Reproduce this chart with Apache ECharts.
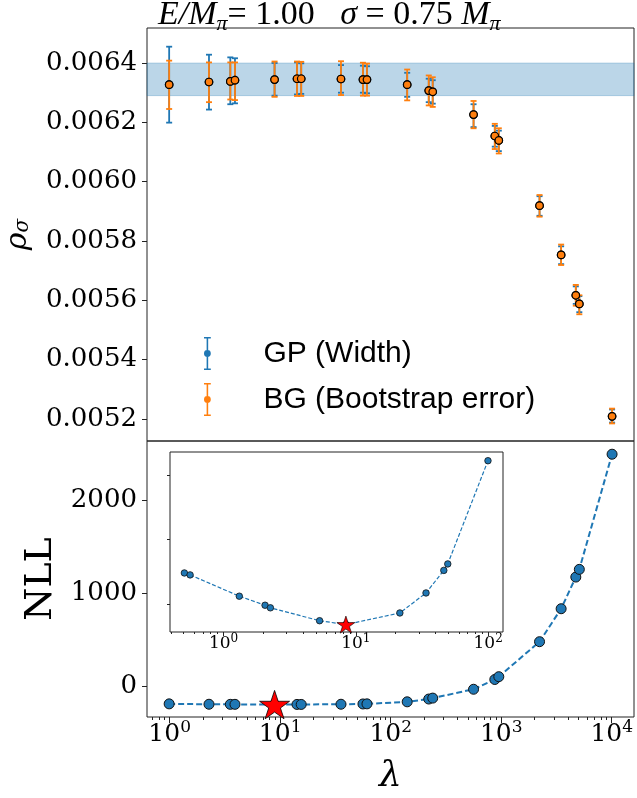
<!DOCTYPE html>
<html><head><meta charset="utf-8">
<script src="https://cdn.jsdelivr.net/npm/echarts@6/dist/echarts.min.js"></script>
<style>html,body{margin:0;padding:0;background:#fff}#c{width:637px;height:798px}</style>
</head><body><div id="c"></div>
<script>
// ---- data ----
const lambdas = [0.99, 2.27, 3.54, 3.90, 8.9, 14.2, 15.5, 35.5, 56.1, 61.0, 141, 221, 240, 562, 875, 951, 2222, 3484, 4730, 5090, 10070];
const rhoGP  = [0.006327, 0.006336, 0.006338, 0.006342, 0.006344, 0.006347, 0.006347, 0.006346, 0.006344, 0.006344, 0.006327, 0.006307, 0.006303, 0.006226, 0.006154, 0.006139, 0.005919, 0.005753, 0.005617, 0.005588, 0.005209];
const rhoBG  = [0.006327, 0.006336, 0.006338, 0.006342, 0.006344, 0.006347, 0.006347, 0.006346, 0.006344, 0.006344, 0.006327, 0.006307, 0.006303, 0.006226, 0.006154, 0.006139, 0.005919, 0.005753, 0.005617, 0.005588, 0.005209];
const gpLow  = [0.006199, 0.006243, 0.006261, 0.006264, 0.006290, 0.006294, 0.006296, 0.006300, 0.006300, 0.006298, 0.006286, 0.006268, 0.006263, 0.006184, 0.006118, 0.006103, 0.005885, 0.005722, 0.005588, 0.005560, 0.005188];
const gpHigh = [0.006455, 0.006428, 0.006419, 0.006416, 0.006400, 0.006402, 0.006399, 0.006393, 0.006391, 0.006389, 0.006367, 0.006347, 0.006342, 0.006261, 0.006188, 0.006172, 0.005951, 0.005782, 0.005647, 0.005614, 0.005232];
const bgLow  = [0.006245, 0.006268, 0.006277, 0.006275, 0.006286, 0.006289, 0.006289, 0.006292, 0.006290, 0.006290, 0.006274, 0.006257, 0.006252, 0.006180, 0.006110, 0.006095, 0.005882, 0.005719, 0.005582, 0.005553, 0.005185];
const bgHigh = [0.006408, 0.006402, 0.006402, 0.006402, 0.006405, 0.006405, 0.006404, 0.006406, 0.006401, 0.006398, 0.006378, 0.006358, 0.006352, 0.006272, 0.006195, 0.006180, 0.005955, 0.005788, 0.005652, 0.005617, 0.005235];
const bandLow = 0.00629, bandHigh = 0.0064;
const nll = [-192, -196, -197, -197, -200, -198, -198, -196, -193, -192, -170, -140, -130, -35, 70, 100, 476, 830, 1170, 1253, 2490];
const bestIndex = 4;
const insetLambda = [0.506, 0.559, 1.316, 2.06, 2.26, 5.32, 8.41, 21.5, 33.9, 46.2, 49.5, 99.6];
const insetNLL = [-185.2, -185.5, -188.8, -190.2, -190.6, -192.6, -193.2, -191.4, -188.3, -184.8, -183.8, -167.8];
const insetBest = 6;
const rhoTicks = [0.0052, 0.0054, 0.0056, 0.0058, 0.0060, 0.0062, 0.0064];
const nllTicks = [0, 1000, 2000];
const insetYTicks = [-190, -180, -170];
const decadeTicks = [1, 10, 100, 1000, 10000];
const insetDecades = [1, 10, 100];
const nameGP = 'GP (Width)', nameBG = 'BG (Bootstrap error)';

// ---- helpers ----
function minorTicks(lo, hi) {
  const out = [];
  for (let k = -2; k <= 5; k++) for (let m = 2; m <= 9; m++) {
    const v = m * Math.pow(10, k);
    if (v > lo && v < hi) out.push(v);
  }
  return out;
}
const BLUE = '#1f77b4', ORANGE = '#ff7f0e';
const STAR = 'path://M50,0 L61.8,35.4 L99,35.4 L69.1,57.3 L80.9,92.7 L50,70.8 L19.1,92.7 L30.9,57.3 L1,35.4 L38.2,35.4 Z';
const EBICON = 'path://M4.2,0h1.6v34h-1.6z M1.5,0h7v1.5h-7z M1.5,32.5h7v1.5h-7z M8.5,17a3.5,3.5 0 1,1 -7,0a3.5,3.5 0 1,1 7,0z';
function errRenderer(color, capHalf, lw) {
  return function (params, api) {
    const x = api.value(0), lo = api.value(1), hi = api.value(2);
    const p1 = api.coord([x, lo]), p2 = api.coord([x, hi]);
    const style = { stroke: color, lineWidth: lw };
    return { type: 'group', children: [
      { type: 'line', shape: { x1: p1[0], y1: p1[1], x2: p2[0], y2: p2[1] }, style },
      { type: 'line', shape: { x1: p1[0] - capHalf, y1: p1[1], x2: p1[0] + capHalf, y2: p1[1] }, style },
      { type: 'line', shape: { x1: p2[0] - capHalf, y1: p2[1], x2: p2[0] + capHalf, y2: p2[1] }, style }
    ]};
  };
}
function pow10Label(size, supSize, lh) {
  return {
    formatter: v => '{b|10}{s|' + Math.round(Math.log10(v)) + '}',
    rich: {
      b: { fontFamily: 'DejaVu Serif', fontSize: size, color: '#000', lineHeight: lh },
      s: { fontFamily: 'DejaVu Serif', fontSize: supSize, color: '#000', verticalAlign: 'top', lineHeight: supSize }
    }
  };
}
const XMIN = 0.624, XMAX = 15900, IXMIN = 0.394, IXMAX = 129.4;
const tickStyle = { color: '#222', width: 1 };
const noLine = { show: false, onZero: false };

const option = {
  animation: false,
  backgroundColor: '#fff',
  title: {
    left: 153, top: -10,
    text: '{i|E/M}{s|π}{n|= 1.00   }{i|σ}{n| = 0.75 }{i|M}{s|π}',
    textStyle: { fontWeight: 'normal', rich: {
      i: { fontFamily: 'Liberation Serif', fontStyle: 'italic', fontWeight: 'normal', fontSize: 34, color: '#000', lineHeight: 40 },
      n: { fontFamily: 'Liberation Serif', fontWeight: 'normal', fontSize: 34, color: '#000', lineHeight: 40 },
      s: { fontFamily: 'Liberation Serif', fontStyle: 'italic', fontWeight: 'normal', fontSize: 22, color: '#000', verticalAlign: 'bottom', lineHeight: 22 }
    } }
  },
  legend: {
    orient: 'vertical', left: 199, top: 332, itemGap: 13,
    itemWidth: 10, itemHeight: 33, selectedMode: false,
    textStyle: { fontFamily: 'Liberation Sans', fontSize: 30, color: '#000', padding: [0, 0, 0, 46] },
    data: [
      { name: nameGP, icon: EBICON, itemStyle: { color: BLUE } },
      { name: nameBG, icon: EBICON, itemStyle: { color: ORANGE } }
    ]
  },
  grid: [
    { left: 147, right: 3, top: 28, height: 413, outerBoundsMode: 'none', containLabel: false, show: true, borderColor: '#222', borderWidth: 1, backgroundColor: 'transparent' },
    { left: 147, right: 3, top: 441, bottom: 81, outerBoundsMode: 'none', containLabel: false, show: true, borderColor: '#222', borderWidth: 1, backgroundColor: 'transparent' },
    { left: 170, top: 452, width: 333, height: 180, outerBoundsMode: 'none', containLabel: false, show: true, borderColor: '#222', borderWidth: 1, backgroundColor: '#fff', z: 5 }
  ],
  xAxis: [
    { gridIndex: 0, type: 'log', logBase: 10, min: XMIN, max: XMAX, position: 'bottom', axisLine: noLine, axisTick: { show: false }, axisLabel: { show: false }, splitLine: { show: false } },
    { gridIndex: 1, type: 'log', logBase: 10, min: XMIN, max: XMAX, position: 'bottom', axisLine: noLine, splitLine: { show: false },
      axisTick: { show: true, length: 6, lineStyle: tickStyle, customValues: decadeTicks },
      axisLabel: Object.assign({ customValues: decadeTicks, margin: 2 }, pow10Label(25, 17, 30)),
      name: 'λ', nameLocation: 'middle', nameGap: 42,
      nameTextStyle: { fontFamily: 'DejaVu Serif', fontStyle: 'italic', fontSize: 36, color: '#000' } },
    { gridIndex: 1, type: 'log', logBase: 10, min: XMIN, max: XMAX, position: 'bottom', axisLine: noLine, splitLine: { show: false },
      axisTick: { show: true, length: 3, lineStyle: tickStyle, customValues: minorTicks(XMIN, XMAX) },
      axisLabel: { show: false } },
    { gridIndex: 2, type: 'log', logBase: 10, min: IXMIN, max: IXMAX, position: 'bottom', axisLine: noLine, splitLine: { show: false },
      axisTick: { show: true, length: 4, lineStyle: tickStyle, customValues: insetDecades },
      axisLabel: Object.assign({ customValues: insetDecades, margin: 1 }, pow10Label(17, 12, 22)) },
    { gridIndex: 2, type: 'log', logBase: 10, min: IXMIN, max: IXMAX, position: 'bottom', axisLine: noLine, splitLine: { show: false },
      axisTick: { show: true, length: 2, lineStyle: tickStyle, customValues: minorTicks(IXMIN, IXMAX) },
      axisLabel: { show: false } }
  ],
  yAxis: [
    { gridIndex: 0, type: 'value', min: 0.0051258, max: 0.006518, position: 'left', axisLine: noLine, splitLine: { show: false },
      axisTick: { show: true, length: 5, lineStyle: tickStyle, customValues: rhoTicks },
      axisLabel: { customValues: rhoTicks, margin: 10, formatter: v => v.toFixed(4), fontFamily: 'DejaVu Serif', fontSize: 26, color: '#000' },
      name: '{a|ρ}{b|σ}', nameLocation: 'middle', nameGap: 114, nameRotate: 90,
      nameTextStyle: { rich: {
        a: { fontFamily: 'DejaVu Serif', fontStyle: 'italic', fontSize: 30, color: '#000' },
        b: { fontFamily: 'DejaVu Serif', fontStyle: 'italic', fontSize: 20, color: '#000', verticalAlign: 'bottom' }
      } } },
    { gridIndex: 1, type: 'value', min: -333, max: 2632, position: 'left', axisLine: noLine, splitLine: { show: false },
      axisTick: { show: true, length: 5, lineStyle: tickStyle, customValues: nllTicks },
      axisLabel: { customValues: nllTicks, margin: 10, formatter: v => String(v), fontFamily: 'DejaVu Serif', fontSize: 26, color: '#000' },
      name: 'NLL', nameLocation: 'middle', nameGap: 72, nameRotate: 90,
      nameTextStyle: { fontFamily: 'DejaVu Serif', fontSize: 38, color: '#000' } },
    { gridIndex: 2, type: 'value', min: -194.35, max: -166.45, position: 'left', axisLine: noLine, splitLine: { show: false },
      axisTick: { show: true, length: 3, lineStyle: tickStyle, customValues: insetYTicks },
      axisLabel: { show: false } }
  ],
  series: [
    { type: 'line', xAxisIndex: 0, yAxisIndex: 0, data: [], z: 1, silent: true,
      markArea: { silent: true, itemStyle: { color: 'rgba(31,119,180,0.3)', borderColor: 'rgba(31,119,180,0.25)', borderWidth: 1 },
        data: [[{ yAxis: bandLow }, { yAxis: bandHigh }]] } },
    { name: nameGP, type: 'custom', xAxisIndex: 0, yAxisIndex: 0, z: 2, itemStyle: { color: BLUE },
      renderItem: errRenderer(BLUE, 3, 1.8), encode: { x: 0, y: [1, 2] },
      data: lambdas.map((l, i) => [l, gpLow[i], gpHigh[i]]) },
    { name: nameBG, type: 'custom', xAxisIndex: 0, yAxisIndex: 0, z: 3, itemStyle: { color: ORANGE },
      renderItem: errRenderer(ORANGE, 3, 1.8), encode: { x: 0, y: [1, 2] },
      data: lambdas.map((l, i) => [l, bgLow[i], bgHigh[i]]) },
    { name: nameGP, type: 'scatter', xAxisIndex: 0, yAxisIndex: 0, z: 4, symbolSize: 7.5,
      itemStyle: { color: BLUE, borderColor: '#000', borderWidth: 1.2, opacity: 1 },
      data: lambdas.map((l, i) => [l, rhoGP[i]]) },
    { name: nameBG, type: 'scatter', xAxisIndex: 0, yAxisIndex: 0, z: 5, symbolSize: 7.5,
      itemStyle: { color: ORANGE, borderColor: '#000', borderWidth: 1.2, opacity: 1 },
      data: lambdas.map((l, i) => [l, rhoBG[i]]) },
    { type: 'line', xAxisIndex: 1, yAxisIndex: 1, z: 3, symbol: 'circle', symbolSize: 10,
      lineStyle: { color: BLUE, width: 2, type: [6, 3] },
      itemStyle: { color: BLUE, borderColor: '#111', borderWidth: 1 },
      data: lambdas.map((l, i) => [l, nll[i]]) },
    { type: 'scatter', xAxisIndex: 1, yAxisIndex: 1, z: 6, symbol: STAR, symbolSize: 30, symbolKeepAspect: true,
      itemStyle: { color: '#ff0000', borderColor: '#000', borderWidth: 0.8, opacity: 1 },
      data: [[lambdas[bestIndex], nll[bestIndex]]] },
    { type: 'line', xAxisIndex: 3, yAxisIndex: 2, z: 8, symbol: 'circle', symbolSize: 6.5,
      lineStyle: { color: BLUE, width: 1.2, type: [4, 2] },
      itemStyle: { color: BLUE, borderColor: '#111', borderWidth: 0.8 },
      data: insetLambda.map((l, i) => [l, insetNLL[i]]) },
    { type: 'scatter', xAxisIndex: 3, yAxisIndex: 2, z: 9, symbol: STAR, symbolSize: 18, symbolKeepAspect: true,
      itemStyle: { color: '#ff0000', borderColor: '#000', borderWidth: 0.6, opacity: 1 },
      data: [[insetLambda[insetBest], insetNLL[insetBest]]] }
  ]
};
const chart = echarts.init(document.getElementById('c'), null, { renderer: 'canvas' });
chart.setOption(option);
</script>
</body></html>
